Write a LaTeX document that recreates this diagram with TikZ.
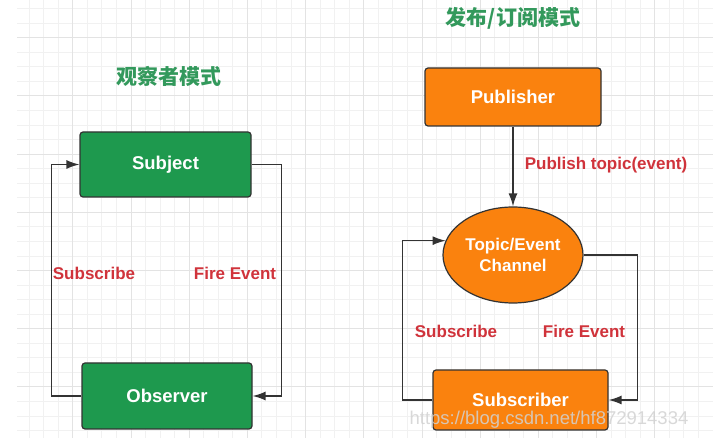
\documentclass[tikz,border=0pt]{standalone}
\usepackage{fontspec}
\setmainfont{Liberation Sans}
\newfontfamily\cjk{Noto Sans CJK SC}
\usetikzlibrary{shapes.geometric,arrows.meta}
\definecolor{boxgreen}{HTML}{1E994E}
\definecolor{titlegreen}{HTML}{33995C}
\definecolor{boxorange}{HTML}{FA820E}
\definecolor{lblred}{HTML}{D0333B}
\definecolor{linegray}{HTML}{333333}
\definecolor{gridminor}{HTML}{F1F1F1}
\definecolor{gridmajor}{HTML}{E3E3E3}
\tikzset{
  gbox/.style={draw=linegray, line width=1.2pt, rounded corners=3pt, fill=boxgreen,
    text=white, font=\fontsize{18.5}{22}\selectfont\bfseries, inner sep=0pt},
  obox/.style={draw=linegray, line width=1.2pt, rounded corners=3pt, fill=boxorange,
    text=white, font=\fontsize{18.5}{22}\selectfont\bfseries, inner sep=0pt},
  conn/.style={draw=linegray, line width=1.4pt, -{Latex[length=13pt,width=9pt]}},
  lbl/.style={text=lblred, font=\fontsize{17}{20}\selectfont\bfseries, inner sep=0pt},
  ttl/.style={text=titlegreen, font=\cjk\fontsize{21}{24}\selectfont\bfseries, inner sep=0pt},
}
\begin{document}
\begin{tikzpicture}[x=1pt,y=-1pt]
\useasboundingbox (0,0) rectangle (713,438);
\fill[white] (0,0) rectangle (713,438);
% grid
\foreach \i in {1,...,47} {
  \draw[gridminor, line width=0.8pt] ({14.5+\i*14.55},0) -- ({14.5+\i*14.55},438);
}
\foreach \j in {2,...,31} {
  \draw[gridminor, line width=0.8pt] (17,{-20.5+\j*14.55}) -- (713,{-20.5+\j*14.55});
}
\foreach \k in {1,...,11} {
  \draw[gridmajor, line width=0.8pt] ({14.5+\k*58.2},0) -- ({14.5+\k*58.2},438);
}
\foreach \k in {1,...,7} {
  \draw[gridmajor, line width=0.8pt] (17,{-20.5+\k*58.2}) -- (713,{-20.5+\k*58.2});
}

% titles
\node[ttl] (t1) at (169,76) {观察者模式};
\node[ttl] (t2) at (513,18) {发布/订阅模式};

% observer pattern
\node[gbox, minimum width=171pt, minimum height=65pt] (subj) at (165.5,164.5) {Subject};
\node[gbox, minimum width=170pt, minimum height=66pt] (obs) at (167,396) {Observer};
\draw[conn] (obs.west) -- ++(-30,0) |- (subj.west);
\draw[conn] (subj.east) -- ++(30,0) |- (obs.east);
\node[lbl] (l1) at (94,273) {Subscribe};
\node[lbl] (l2) at (235,273) {Fire Event};

% publish/subscribe pattern
\node[obox, minimum width=176pt, minimum height=58pt] (pub) at (513,97) {Publisher};
\node[ellipse, draw=linegray, line width=1.2pt, fill=boxorange, text=white,
  minimum width=140pt, minimum height=96pt, inner sep=0pt, align=center,
  font=\fontsize{17}{21}\selectfont\bfseries] (chan) at (513,255) {Topic/Event\\Channel};
\node[obox, minimum width=175pt, minimum height=60pt] (sub) at (520.5,400) {Subscriber};
\draw[conn] (pub.south) -- (chan.north);
\draw[conn] (sub.west) -- ++(-30,0) |- (chan.168);
\draw[conn] (chan.east) -- ++(54,0) |- (sub.east);
\node[lbl] (l3) at (606,165) {Publish topic(event)};
\node[lbl] (l4) at (456,331) {Subscribe};
\node[lbl] (l5) at (584,331) {Fire Event};

% watermark
\node[text=gray!35, opacity=0.85, font=\fontsize{18.5}{22}\selectfont, inner sep=0pt] (wm) at (549,420) {https://blog.csdn.net/hf872914334};
\end{tikzpicture}
\end{document}
